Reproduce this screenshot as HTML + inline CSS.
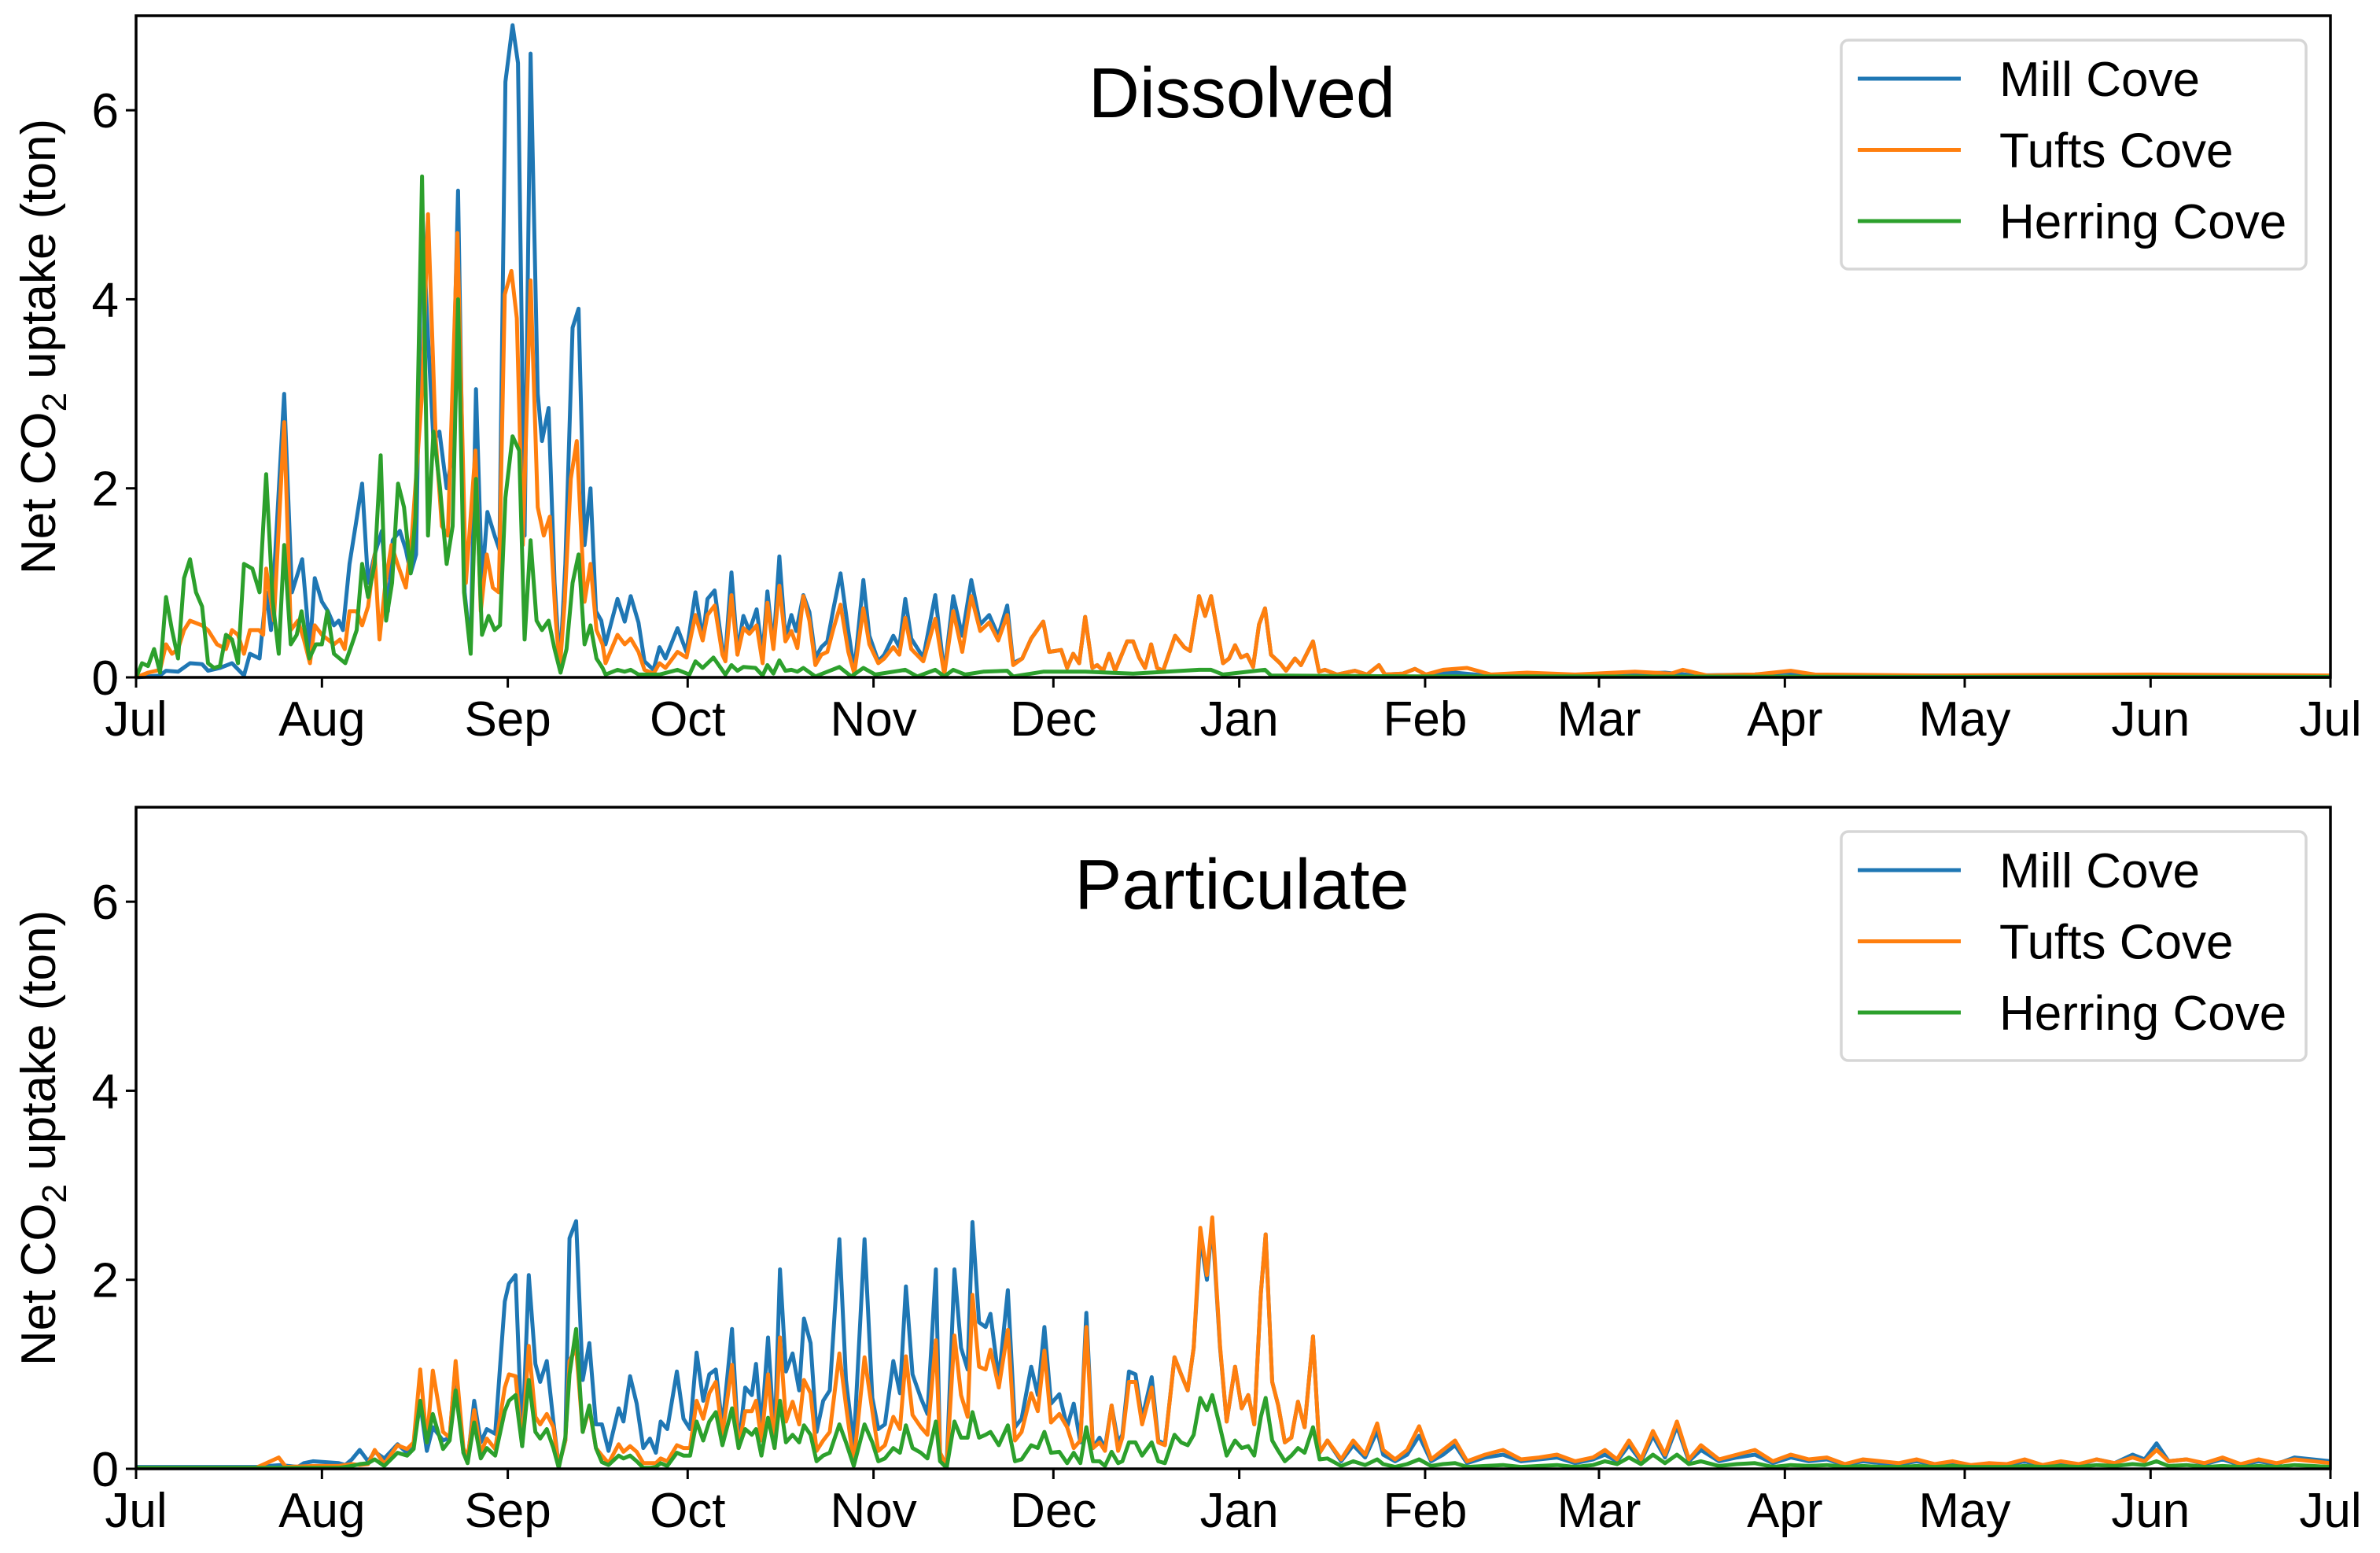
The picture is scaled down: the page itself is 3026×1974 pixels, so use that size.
<!DOCTYPE html>
<html><head><meta charset="utf-8">
<style>
html,body{margin:0;padding:0;background:#fff;}
svg{display:block;font-family:"Liberation Sans",Arial,sans-serif;}
</style></head>
<body>
<svg id="fig" width="3026" height="1974" viewBox="0 0 3026 1974" xmlns="http://www.w3.org/2000/svg"></svg>
<script>
// ---- data: [day since Jul 1, value] ----
const monthLabels = ["Jul","Aug","Sep","Oct","Nov","Dec","Jan","Feb","Mar","Apr","May","Jun","Jul"];
const monthDays = [0,31,62,92,123,153,184,215,244,275,305,336,366];
const yTicks = [0,2,4,6];
const seriesNames = ["Mill Cove","Tufts Cove","Herring Cove"];
const panelTitles = ["Dissolved","Particulate"];

const dissMill = [[0,0],[4,.02],[5,.07],[7,.06],[9,.15],[11,.14],[12,.07],[14,.1],[16,.15],[18,.02],[19,.25],[20.6,.2],[21.7,.9],[22.5,.5],[24.7,3.0],[26,.9],[27.7,1.25],[29,.3],[29.8,1.05],[31,.8],[32,.7],[33,.55],[33.8,.6],[34.5,.5],[35.6,1.2],[36.6,1.6],[37.7,2.05],[38.7,1.0],[39.8,1.3],[41,1.55],[42,.7],[42.8,1.45],[44,1.55],[45,1.35],[45.8,1.1],[46.7,1.3],[47.7,5.0],[48.7,3.6],[49.6,2.5],[50.6,2.6],[51.8,2.0],[52.6,2.3],[53.7,5.15],[54.8,.9],[55.8,.3],[56.7,3.05],[57.7,1.0],[58.6,1.75],[59.8,1.5],[60.6,1.35],[61.6,6.3],[62.8,6.9],[63.7,6.5],[64.8,1.5],[65.8,6.6],[67,3.0],[67.7,2.5],[68.8,2.85],[69.8,1.0],[70.7,.1],[71.6,1.2],[72.8,3.7],[73.8,3.9],[74.8,1.4],[75.8,2.0],[76.7,.7],[77.6,.6],
[78.3,.35],[80.3,.83],[81.5,.59],[82.5,.86],[83.8,.58],[84.8,.17],[86.3,.08],[87.3,.32],[88.3,.2],[90.3,.52],[91.8,.27],[93.3,.9],[94.5,.41],[95.3,.83],[96.5,.92],[97.8,.3],[98.3,.24],[99.3,1.11],[100.3,.27],[101.3,.65],[102.3,.49],[103.5,.72],[104.5,.24],[105.3,.91],[106.3,.32],[107.3,1.28],[108.3,.41],[109.3,.66],[110.1,.49],[111.3,.87],[112.3,.69],[113.3,.21],[114.3,.32],[115.3,.38],[116.3,.72],[117.5,1.1],[118.8,.49],[119.8,.07],[121.3,1.03],[122.3,.44],[123.8,.17],[124.8,.24],[126.3,.44],[127.3,.32],[128.3,.83],[129.3,.41],[131.3,.21],[133.3,.87],[134.8,.04],[136.3,.86],[137.8,.44],[139.3,1.03],[140.8,.56],[142.3,.66],[143.8,.44],[145.3,.76],[146.3,.15],[147.8,.2],[149.3,.41],[151.3,.59],[152.3,.27],[154.3,.29],[155.3,.1],[156.3,.25],[157.3,.15],[158.3,.64],[159.5,.1],[160.3,.13],[161.3,.07],[162.3,.25],[163.3,.07],[165.3,.38],[166.3,.38],[167.3,.21],[168.3,.1],[169.3,.35],[170.3,.1],[171.3,.07],[173.3,.44],[174.8,.32],[175.8,.28],[177.3,.86],[178.3,.65],[179.3,.86],[181.3,.15],[182.3,.2],[183.3,.34],[184.3,.21],[185.3,.24],[186.3,.11],[187.3,.56],[188.3,.73],[189.3,.24],[190.8,.15],[191.8,.07],[193.3,.2],[194.3,.13],[196.3,.38],[197.3,.06],[198.3,.08],[200.3,.03],[203.3,.07],[205.3,.03],[207.3,.13],[208.3,.03],[211.3,.04],[213.3,.09],[215.1,.03],
[220,.05],[225,.02],[230,.04],[240,.02],[250,.04],[255,.05],[260,.02],[270,.03],[275,.05],[280,.02],[300,.02],[320,.01],[336,.02],[350,.01],[366,.01]];

const dissTufts = [[0,0],[2,.05],[4,.08],[5,.35],[6,.25],[7,.3],[8,.5],[9,.6],[11,.55],[12,.5],[13.5,.35],[15,.3],[16,.5],[17,.45],[18,.25],[19,.5],[20.5,.5],[21.2,.45],[21.7,1.15],[23,.6],[24.7,2.7],[25.8,.5],[27,.6],[28,.4],[29,.15],[29.8,.55],[31,.45],[32,.4],[33,.35],[34,.4],[34.8,.3],[35.6,.7],[36.8,.7],[37.7,.55],[38.7,.75],[39.8,1.3],[40.6,.4],[41.6,1.0],[42.6,1.4],[43.6,1.2],[45,.95],[46,1.5],[47.7,3.0],[48.7,4.9],[50,2.5],[51,1.6],[52,1.5],[53.6,4.7],[55,1.0],[56.6,2.4],[57.5,.7],[58.5,1.3],[59.5,.95],[60.5,.9],[61.5,4.05],[62.6,4.3],[63.5,3.8],[64.5,1.4],[65.8,4.2],[67,1.8],[68,1.5],[69,1.7],[70,.6],[70.7,.1],[71.5,.8],[72.5,2.1],[73.5,2.5],[74.8,.8],[75.8,1.2],[76.8,.5],[77.8,.35],
[78.3,.15],[80.3,.45],[81.5,.35],[82.5,.41],[83.8,.27],[84.8,.08],[86.3,.04],[87.3,.15],[88.3,.1],[90.3,.27],[91.8,.21],[93.3,.66],[94.5,.39],[95.3,.66],[96.5,.76],[97.8,.24],[98.3,.17],[99.3,.87],[100.3,.24],[101.3,.52],[102.3,.46],[103.5,.55],[104.5,.15],[105.3,.79],[106.3,.3],[107.3,.97],[108.3,.38],[109.3,.49],[110.3,.31],[111.3,.86],[112.3,.6],[113.3,.13],[114.3,.24],[115.3,.27],[116.3,.51],[117.5,.77],[118.8,.27],[119.8,.04],[121.3,.73],[122.3,.35],[123.8,.15],[124.8,.2],[126.3,.32],[127.3,.24],[128.3,.63],[129.3,.3],[131.3,.17],[133.3,.62],[134.8,.03],[136.3,.7],[137.8,.27],[139.3,.86],[140.8,.49],[142.3,.58],[143.8,.39],[145.3,.66],[146.3,.13],[147.8,.2],[149.3,.41],[151.3,.59],[152.3,.27],[154.3,.29],[155.3,.1],[156.3,.25],[157.3,.15],[158.3,.64],[159.5,.1],[160.3,.13],[161.3,.07],[162.3,.25],[163.3,.07],[165.3,.38],[166.3,.38],[167.3,.21],[168.3,.1],[169.3,.35],[170.3,.1],[171.3,.07],[173.3,.44],[174.8,.32],[175.8,.28],[177.3,.86],[178.3,.65],[179.3,.86],[181.3,.15],[182.3,.2],[183.3,.34],[184.3,.21],[185.3,.24],[186.3,.11],[187.3,.56],[188.3,.73],[189.3,.24],[190.8,.15],[191.8,.07],[193.3,.2],[194.3,.13],[196.3,.38],[197.3,.06],[198.3,.08],[200.3,.03],[203.3,.07],[205.3,.03],[207.3,.13],[208.3,.03],[211.3,.04],[213.3,.09],[215.1,.03],
[218,.08],[222,.1],[226,.03],[232,.05],[240,.03],[250,.06],[256,.04],[258,.08],[262,.02],[270,.03],[276,.07],[280,.03],[300,.02],[336,.03],[366,.02]];

const dissHerring = [[0,0],[1,.15],[2,.12],[3,.3],[4,.05],[5,.85],[6,.5],[7,.2],[8,1.05],[9,1.25],[10,.9],[11,.75],[12,.15],[13,.1],[14,.12],[15,.45],[16,.4],[17,.15],[18,1.2],[19.4,1.15],[20.6,.9],[21.7,2.15],[22.8,.8],[23.8,.25],[24.7,1.4],[25.8,.35],[26.8,.45],[27.6,.7],[28.9,.2],[30,.35],[31,.35],[31.9,.7],[33,.25],[34.9,.15],[36,.35],[36.8,.5],[37.7,1.2],[38.7,.85],[39.8,1.2],[40.8,2.35],[41.7,.6],[42.7,1.0],[43.7,2.05],[44.7,1.8],[45.8,1.1],[46.6,1.7],[47.7,5.3],[48.7,1.5],[49.6,2.6],[50.7,2.0],[51.8,1.2],[52.8,1.6],[53.7,4.0],[54.7,.9],[55.8,.25],[56.7,2.1],[57.7,.45],[58.8,.65],[59.8,.5],[60.7,.55],[61.6,1.9],[62.8,2.55],[63.9,2.4],[64.8,.4],[65.8,1.45],[66.8,.6],[67.7,.5],[68.8,.6],[69.8,.3],[70.8,.05],[71.8,.3],[72.8,1.0],[73.8,1.3],[74.8,.35],[75.8,.55],[76.8,.2],[77.8,.1],
[78.3,.03],[80.3,.08],[81.5,.06],[82.5,.08],[83.8,.03],[87.3,.03],[90.3,.08],[92.3,.03],[93.3,.17],[94.5,.1],[96.3,.21],[98.3,.03],[99.3,.13],[100.3,.07],[101.3,.11],[103.3,.1],[104.5,.02],[105.3,.13],[106.3,.04],[107.3,.18],[108.3,.07],[109.3,.08],[110.3,.06],[111.3,.1],[113.3,.01],[117.3,.11],[119.3,.01],[121.3,.1],[123.3,.03],[128.3,.08],[130.3,.01],[133.3,.08],[134.8,.01],[136.3,.08],[138.3,.03],[141.3,.06],[145.3,.07],[146.3,.01],[151.3,.06],[158.3,.06],[166.3,.04],[177.3,.08],[179.3,.08],[181.3,.03],[188.3,.08],[189.3,.02],[215.1,.01],[240,.01],[300,.005],[366,.005]];

const partMill = [[0,.02],[10,.02],[20,.02],[24,.04],[27,.02],[28,.06],[29.5,.08],[33.8,.06],[34.9,.04],[36.0,.1],[37.3,.2],[38.7,.08],[39.8,.18],[41.4,.11],[43.6,.26],[45.2,.17],[46.3,.28],[47.4,.69],[48.5,.19],[49.5,.44],[51.2,.3],[52.3,.33],[53.3,1.11],[54.6,.17],[55.3,.07],[56.4,.72],[57.5,.28],[58.5,.42],[59.9,.37],[61.5,1.77],[62.2,1.96],[63.3,2.05],[64.4,.24],[65.5,2.05],[66.6,1.11],[67.4,.92],[68.5,1.14],[69.6,.5],[70.5,.03],[71.6,.3],[72.3,2.44],[73.4,2.62],[74.5,.94],[75.6,1.33],[76.7,.47],[77.7,.47],[78.8,.19],[80.5,.64],[81.3,.5],[82.4,.98],[83.5,.69],[84.6,.22],[85.7,.32],[86.7,.17],[87.5,.5],[88.6,.42],[90.2,1.03],[91.3,.53],[92.4,.42],[93.5,1.23],[94.6,.72],[95.6,1.0],[96.7,1.05],[97.8,.44],[99.4,1.48],[100.5,.22],[101.6,.86],[102.7,.78],[103.4,1.11],[104.3,.42],[105.4,1.39],[106.5,.28],[107.4,2.11],[108.4,1.03],[109.5,1.22],[110.6,.83],[111.4,1.59],[112.5,1.33],[113.5,.39],[114.6,.72],[115.7,.83],[117.3,2.43],[118.4,.94],[119.7,.25],[121.5,2.43],[122.8,.75],[123.8,.42],[124.9,.47],[126.3,1.14],[127.4,.8],[128.4,1.93],[129.5,1.0],[130.9,.75],[132.0,.58],[133.4,2.11],[134.1,.17],[135.2,.03],[136.5,2.11],[137.6,1.28],[138.7,1.05],[139.5,2.61],[140.6,1.55],[141.7,1.5],[142.5,1.64],[143.9,.94],[145.4,1.89],[146.6,.44],[147.7,.53],[149.3,1.08],[150.4,.78],[151.5,1.5],[152.6,.69],[154.0,.79],[155.3,.44],[156.4,.69],[157.5,.28],[158.5,1.65],[159.6,.22],[160.7,.33],[161.6,.22],[162.7,.67],[163.8,.28],[164.5,.36],[165.6,1.03],[166.7,1.0],[167.8,.53],[169.4,.97],[170.5,.3],[171.6,.26],[173.2,1.18],[174.3,1.0],[175.4,.83],[176.4,1.28],[177.5,2.45],[178.6,2.0],[179.5,2.6],[180.8,1.28],[181.9,.5],[183.3,1.08],[184.4,.64],[185.5,.78],[186.5,.47],[187.6,1.86],[188.4,2.48],[189.5,.92],[190.5,.67],[191.6,.28],[192.7,.33],[193.8,.71],[194.9,.44],[196.3,1.4],[197.4,.17],[198.7,.3],
[201,.08],[203,.25],[205,.12],[207,.4],[208,.15],[210,.08],[212,.15],[214,.35],[216,.08],[218,.15],[220,.25],[222,.06],[225,.12],[228,.15],[231,.08],[234,.1],[237,.12],[240,.06],[243,.1],[245,.15],[247,.08],[249,.25],[251,.08],[253,.35],[255,.12],[257,.45],[259,.08],[261,.2],[264,.08],[267,.12],[270,.15],[273,.06],[276,.12],[279,.08],[282,.1],[285,.04],[288,.08],[291,.06],[294,.05],[297,.08],[300,.04],[303,.06],[306,.03],[309,.05],[312,.04],[315,.08],[318,.03],[321,.06],[324,.04],[327,.1],[330,.06],[333,.15],[335,.1],[337,.27],[339,.08],[342,.1],[345,.05],[348,.1],[351,.04],[354,.08],[357,.05],[360,.12],[363,.1],[366,.08]];

const partTufts = [[0,.01],[20,.01],[23.8,.12],[25,.02],[29.5,.03],[33.8,.03],[34.9,.04],[36.0,.05],[37.3,.04],[38.7,.05],[39.8,.2],[41.4,.05],[43.6,.25],[45.2,.21],[46.3,.28],[47.4,1.05],[48.5,.28],[49.5,1.04],[51.2,.39],[52.3,.33],[53.3,1.14],[54.6,.22],[55.3,.12],[56.4,.62],[57.5,.17],[58.5,.32],[59.9,.21],[61.5,.86],[62.2,1.0],[63.3,.98],[64.4,.25],[65.5,1.3],[66.6,.55],[67.4,.47],[68.5,.58],[69.6,.44],[70.5,.03],[71.6,.3],[72.3,1.14],[73.4,1.28],[74.5,.39],[75.6,.64],[76.7,.22],[77.7,.14],[78.8,.06],[80.5,.26],[81.3,.18],[82.4,.24],[83.5,.18],[84.6,.06],[85.7,.06],[86.7,.06],[87.5,.11],[88.6,.08],[90.2,.25],[91.3,.22],[92.4,.22],[93.5,.72],[94.6,.53],[95.6,.8],[96.7,.92],[97.8,.36],[99.4,1.1],[100.5,.22],[101.6,.61],[102.7,.61],[103.4,.72],[104.3,.3],[105.4,1.0],[106.5,.22],[107.4,1.39],[108.4,.5],[109.5,.71],[110.6,.47],[111.4,.94],[112.5,.8],[113.5,.19],[114.6,.3],[115.7,.39],[117.3,1.22],[118.4,.67],[119.7,.06],[121.5,1.18],[122.8,.61],[123.8,.19],[124.9,.25],[126.3,.55],[127.4,.42],[128.4,1.19],[129.5,.57],[130.9,.44],[132.0,.36],[133.4,1.36],[134.1,.17],[135.2,.03],[136.5,1.41],[137.6,.78],[138.7,.55],[139.5,1.84],[140.6,1.08],[141.7,1.05],[142.5,1.26],[143.9,.86],[145.4,1.47],[146.6,.3],[147.7,.39],[149.3,.8],[150.4,.61],[151.5,1.25],[152.6,.49],[154.0,.58],[155.3,.44],[156.4,.22],[157.5,.3],[158.5,1.5],[159.6,.22],[160.7,.28],[161.6,.19],[162.7,.67],[163.8,.19],[164.5,.33],[165.6,.92],[166.7,.92],[167.8,.47],[169.4,.86],[170.5,.28],[171.6,.25],[173.2,1.18],[174.3,1.0],[175.4,.83],[176.4,1.28],[177.5,2.55],[178.6,2.05],[179.5,2.66],[180.8,1.3],[181.9,.5],[183.3,1.08],[184.4,.64],[185.5,.78],[186.5,.47],[187.6,1.86],[188.4,2.48],[189.5,.92],[190.5,.67],[191.6,.28],[192.7,.33],[193.8,.71],[194.9,.44],[196.3,1.4],[197.4,.17],[198.7,.3],
[201,.1],[203,.3],[205,.15],[207,.48],[208,.2],[210,.1],[212,.2],[214,.45],[216,.1],[218,.2],[220,.3],[222,.08],[225,.15],[228,.2],[231,.1],[234,.12],[237,.15],[240,.08],[243,.12],[245,.2],[247,.1],[249,.3],[251,.1],[253,.4],[255,.15],[257,.5],[259,.1],[261,.25],[264,.1],[267,.15],[270,.2],[273,.08],[276,.15],[279,.1],[282,.12],[285,.05],[288,.1],[291,.08],[294,.06],[297,.1],[300,.05],[303,.08],[306,.04],[309,.06],[312,.05],[315,.1],[318,.04],[321,.08],[324,.05],[327,.1],[330,.06],[333,.12],[335,.08],[337,.2],[339,.08],[342,.1],[345,.06],[348,.12],[351,.05],[354,.1],[357,.06],[360,.1],[363,.08],[366,.06]];

const partHerring = [[0,.01],[29.5,.01],[33.8,.01],[34.9,.02],[36.0,.03],[37.3,.05],[38.7,.06],[39.8,.1],[41.4,.03],[43.6,.17],[45.2,.14],[46.3,.21],[47.4,.72],[48.5,.28],[49.5,.58],[51.2,.21],[52.3,.3],[53.3,.83],[54.6,.17],[55.3,.06],[56.4,.49],[57.5,.11],[58.5,.22],[59.9,.14],[61.5,.61],[62.2,.72],[63.3,.78],[64.4,.24],[65.5,.94],[66.6,.39],[67.4,.32],[68.5,.42],[69.6,.22],[70.5,.01],[71.6,.33],[72.3,1.0],[73.4,1.48],[74.5,.39],[75.6,.67],[76.7,.22],[77.7,.07],[78.8,.04],[80.5,.14],[81.3,.11],[82.4,.14],[83.5,.08],[84.6,.01],[85.7,.01],[86.7,.02],[87.5,.06],[88.6,.03],[90.2,.17],[91.3,.14],[92.4,.14],[93.5,.5],[94.6,.3],[95.6,.5],[96.7,.6],[97.8,.25],[99.4,.64],[100.5,.22],[101.6,.42],[102.7,.36],[103.4,.42],[104.3,.14],[105.4,.54],[106.5,.22],[107.4,.72],[108.4,.28],[109.5,.36],[110.6,.28],[111.4,.46],[112.5,.36],[113.5,.08],[114.6,.14],[115.7,.17],[117.3,.47],[118.4,.28],[119.7,.03],[121.5,.47],[122.8,.28],[123.8,.08],[124.9,.11],[126.3,.22],[127.4,.17],[128.4,.46],[129.5,.22],[130.9,.17],[132.0,.11],[133.4,.5],[134.1,.08],[135.2,.01],[136.5,.5],[137.6,.33],[138.7,.33],[139.5,.6],[140.6,.33],[141.7,.36],[142.5,.39],[143.9,.25],[145.4,.46],[146.6,.08],[147.7,.1],[149.3,.25],[150.4,.22],[151.5,.39],[152.6,.17],[154.0,.18],[155.3,.06],[156.4,.17],[157.5,.06],[158.5,.44],[159.6,.08],[160.7,.08],[161.6,.03],[162.7,.18],[163.8,.06],[164.5,.08],[165.6,.28],[166.7,.28],[167.8,.14],[169.4,.28],[170.5,.08],[171.6,.06],[173.2,.36],[174.3,.28],[175.4,.25],[176.4,.36],[177.5,.75],[178.6,.62],[179.5,.78],[180.8,.44],[181.9,.14],[183.3,.3],[184.4,.22],[185.5,.24],[186.5,.14],[187.6,.55],[188.4,.75],[189.5,.3],[190.5,.19],[191.6,.08],[192.7,.14],[193.8,.22],[194.9,.17],[196.3,.44],[197.4,.1],[198.7,.11],
[201,.03],[203,.08],[205,.04],[207,.1],[208,.05],[210,.02],[212,.05],[214,.1],[216,.03],[218,.05],[220,.06],[222,.02],[225,.03],[228,.04],[231,.02],[234,.03],[237,.04],[240,.02],[243,.04],[245,.08],[247,.05],[249,.12],[251,.05],[253,.15],[255,.06],[257,.15],[259,.05],[261,.08],[264,.03],[267,.05],[270,.06],[273,.02],[276,.04],[279,.03],[282,.04],[285,.02],[288,.03],[291,.02],[294,.02],[297,.03],[300,.02],[303,.03],[306,.02],[309,.02],[312,.02],[315,.03],[318,.02],[321,.03],[324,.02],[327,.04],[330,.03],[333,.05],[335,.04],[337,.08],[339,.03],[342,.04],[345,.02],[348,.03],[351,.02],[354,.03],[357,.02],[360,.04],[363,.03],[366,.02]];

const colors = ["#1f77b4","#ff7f0e","#2ca02c"];
const NS = "http://www.w3.org/2000/svg";
const svg = document.getElementById("fig");

const X0 = 173, X1 = 2963, DMAX = 366, YMAX = 7;
function xs(d){ return X0 + (X1 - X0) * d / DMAX; }
function mk(tag, attrs, parent){
  const e = document.createElementNS(NS, tag);
  for (const k in attrs) e.setAttribute(k, attrs[k]);
  (parent || svg).appendChild(e);
  return e;
}

const panels = [
  {top:20, bottom:861, title:panelTitles[0], series:[dissMill, dissTufts, dissHerring], key:"dissolved"},
  {top:1026, bottom:1867, title:panelTitles[1], series:[partMill, partTufts, partHerring], key:"particulate"}
];

panels.forEach(function(p){
  const g = mk("g", {});
  
  
  const ys = function(v){ return p.bottom - (p.bottom - p.top) * v / YMAX; };

  // series
  p.series.forEach(function(s, si){
    const pts = s.map(function(q){ return xs(q[0]).toFixed(1) + "," + ys(q[1]).toFixed(1); }).join(" ");
    const pl = mk("polyline", {points: pts, fill:"none", stroke: colors[si], "stroke-width": 5, "stroke-linejoin":"round", "stroke-linecap":"butt"}, g);
    
    
  });

  // frame
  const fr = mk("rect", {x:X0, y:p.top, width:X1-X0, height:p.bottom-p.top, fill:"none", stroke:"#000", "stroke-width":3.5}, g);
  
  

  // y ticks
  yTicks.forEach(function(t){
    const y = ys(t);
    const tk = mk("line", {x1:X0-13, x2:X0, y1:y, y2:y, stroke:"#000", "stroke-width":3}, g);
    
    
    const tx = mk("text", {x:X0-22, y:y+22, "font-size":62, "text-anchor":"end", fill:"#000"}, g);
    tx.textContent = String(t);
    
    
  });

  // x ticks
  monthDays.forEach(function(d, i){
    const x = xs(d);
    const tk = mk("line", {x1:x, x2:x, y1:p.bottom, y2:p.bottom+13, stroke:"#000", "stroke-width":3}, g);
    
    
    const tx = mk("text", {x:x, y:p.bottom+74, "font-size":62, "text-anchor":"middle", fill:"#000"}, g);
    tx.textContent = monthLabels[i];
    
    
  });

  // y axis title
  const cy = (p.top + p.bottom) / 2;
  const yt = mk("text", {x:0, y:0, "font-size":62, "text-anchor":"middle", fill:"#000", transform:"translate(70," + cy + ") rotate(-90)"}, g);
  
  
  yt.appendChild(document.createTextNode("Net CO"));
  const sub = mk("tspan", {"font-size":44, dy:14}, yt);
  sub.textContent = "2";
  const rest = mk("tspan", {dy:-14}, yt);
  rest.textContent = " uptake (ton)";

  // title
  const tt = mk("text", {x:1579, y:p.top+129, "font-size":90, "text-anchor":"middle", fill:"#000"}, g);
  tt.textContent = p.title;
  
  

  // legend
  const lg = mk("g", {}, g);
  
  
  const off = p.top - 20;
  mk("rect", {x:2341, y:51+off, width:591, height:291, rx:9, ry:9, fill:"#fff", "fill-opacity":0.8, stroke:"#d6d6d6", "stroke-width":3.5}, lg);
  seriesNames.forEach(function(n, i){
    const ry = 100 + off + i*90.5;
    const ln = mk("line", {x1:2362, x2:2493, y1:ry, y2:ry, stroke:colors[i], "stroke-width":5}, lg);
    
    
    const lt = mk("text", {x:2542, y:ry+22, "font-size":62, fill:"#000"}, lg);
    lt.textContent = n;
    
    
  });
});
</script>
</body></html>
